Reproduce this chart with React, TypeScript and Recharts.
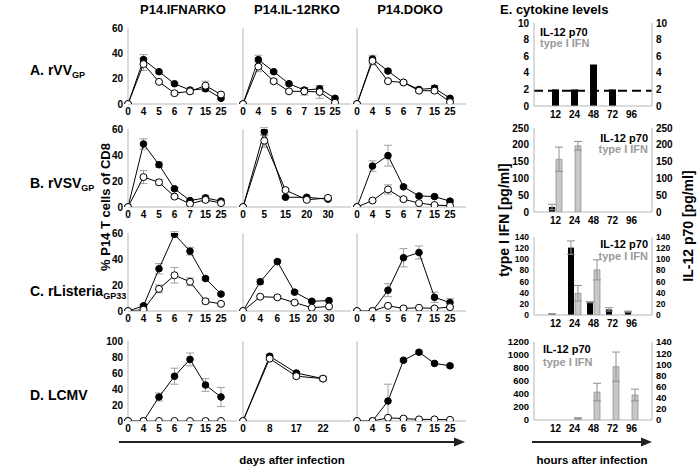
import React from 'react';
import { LineChart, Line, XAxis, YAxis, ErrorBar, BarChart, Bar, ReferenceLine } from 'recharts';

const FONT = '"Liberation Sans", Arial, sans-serif';

// x categories (days / hours)
const days7 = ['0', '4', '5', '6', '7', '15', '25'];
const daysVsvIl12 = ['0', '5', '15', '20', '30'];
const daysLisIl12 = ['0', '4', '6', '15', '20', '30'];
const daysLcmvIl12 = ['0', '8', '17', '22'];
const hours = ['12', '24', '48', '72', '96'];

const ticks60 = [0, 20, 40, 60];
const ticks100 = [0, 20, 40, 60, 80, 100];

// A. rVV GP
const vvIfnarFilled = [0, 35, 25.5, 16, 11, 12, 4.5];
const vvIfnarFilledErr = [0, 4, 1, 1, 1.5, 2, 1];
const vvIfnarOpen = [0, 31.5, 17.5, 8.5, 10, 14.5, 7.5];
const vvIfnarOpenErr = [0, 5, 1, 1, 2, 3.5, 1];
const vvIl12Filled = [0, 35, 25.5, 16, 11, 12, 4.5];
const vvIl12FilledErr = [0, 3.5, 1, 1, 1.5, 2.5, 1];
const vvIl12Open = [0, 29.5, 18, 10, 10, 9.5, 1];
const vvIl12OpenErr = [0, 4, 1.5, 1, 3, 5, 0.5];
const vvDokoFilled = [0, 35.5, 26, 17, 11.5, 12.5, 4.5];
const vvDokoFilledErr = [0, 3, 1, 1, 1, 2, 1];
const vvDokoOpen = [0, 34, 18, 17, 10.5, 10.5, 1.5];
const vvDokoOpenErr = [0, 3, 1, 1, 1, 1.5, 0.5];

// B. rVSV GP
const vsvIfnarFilled = [0, 48.5, 32.5, 14, 5, 7, 4.5];
const vsvIfnarFilledErr = [0, 4, 2, 1, 1, 2, 1];
const vsvIfnarOpen = [0, 23, 19, 8, 2.5, 5.5, 3];
const vsvIfnarOpenErr = [0, 5, 2, 1, 1, 1.5, 1];
const vsvIl12Filled = [0, 58, 7.5, 7.5, 6];
const vsvIl12FilledErr = [0, 3, 1, 1, 1];
const vsvIl12Open = [0, 51, 13, 5.5, 7];
const vsvIl12OpenErr = [0, 5, 1, 1, 1.5];
const vsvDokoFilled = [0, 31.5, 39.5, 15.5, 8.5, 8, 4.5];
const vsvDokoFilledErr = [0, 4, 8, 1, 1, 1, 1];
const vsvDokoOpen = [0, 5, 13.5, 6, 3, 1.5, 1];
const vsvDokoOpenErr = [0, 1, 3.5, 1, 0.5, 0.5, 0.5];

// C. rListeria GP33
const lisIfnarFilled = [0, 4, 32.5, 59, 46, 25, 13];
const lisIfnarFilledErr = [0, 1, 4, 2, 3, 1, 1];
const lisIfnarOpen = [0, 1, 17, 27.5, 22.5, 7.5, 5.5];
const lisIfnarOpenErr = [0, 0.5, 3, 6, 3, 2, 1];
const lisIl12Filled = [0, 22.5, 38, 14.5, 7.5, 8];
const lisIl12FilledErr = [0, 2, 1, 1, 1, 1];
const lisIl12Open = [0, 11, 10.5, 6.5, 2.5, 3.5];
const lisIl12OpenErr = [0, 1, 1, 1, 0.5, 0.5];
const lisDokoFilled = [0, 0, 16, 41, 45, 10.5, 6.5];
const lisDokoFilledErr = [0, 0, 5, 7, 5, 4, 3];
const lisDokoOpen = [0, 0, 4, 2, 2.5, 2, 3];
const lisDokoOpenErr = [0, 0, 1, 0.5, 0.5, 0.5, 1];

// D. LCMV
const lcmvIfnarFilled = [0, 0, 30, 56, 77, 45, 30];
const lcmvIfnarFilledErr = [0, 0, 5, 10, 8, 8, 12];
const lcmvIfnarOpen = [0, 0, 0, 0, 0, 0, 0];
const lcmvIfnarOpenErr = [0, 0, 0, 0, 0, 0, 0];
const lcmvIl12Filled = [0, 81, 60, 53];
const lcmvIl12FilledErr = [0, 2, 2, 2];
const lcmvIl12Open = [0, 78, 56, 53];
const lcmvIl12OpenErr = [0, 2, 3, 3];
const lcmvDokoFilled = [0, 0, 25, 76, 86, 72, 69];
const lcmvDokoFilledErr = [0, 0, 21, 2, 2, 2, 2];
const lcmvDokoOpen = [0, 0, 4, 3, 2, 2, 1.5];
const lcmvDokoOpenErr = [0, 0, 1, 1, 1, 1, 1];

// E. cytokine levels [pg/ml]
const vvIl12 = [2, 2, 5, 2, 0];
const vvDetection = 1.85;
const vsvIl12 = [15, 0, 0, 0, 0];
const vsvIl12Err = [8, 0, 0, 0, 0];
const vsvIfn = [157, 197, 0, 0, 0];
const vsvIfnErr = [36, 13, 0, 0, 0];
const lisIl12 = [2, 121, 23, 10, 6];
const lisIl12Err = [0.5, 12, 1, 3, 1];
const lisIfn = [0, 39, 81, 0, 0];
const lisIfnErr = [0, 14, 18, 0, 0];
const lcmvIl12 = [0, 0, 0, 0, 0];
const lcmvIl12Err = [0, 0, 0, 0, 0];
const lcmvIfn = [0, 25, 430, 820, 385];
const lcmvIfnErr = [0, 10, 135, 225, 90];

const tickStyle = { fill: '#000', fontSize: 10, fontWeight: 700, fontFamily: FONT };
const frame = { stroke: '#b5b5b5' };

type PanelProps = {
  x: number; y: number; w: number; h: number;
  days: string[]; filled: number[]; filledErr: number[]; open: number[]; openErr: number[];
  yMax: number; yTicks: number[]; showY: boolean; padRight: number;
};

const YW = 28, MT = 6, MR = 4, XH = 18;

function Panel(p: PanelProps) {
  const data = p.days.map((d, i) => ({ day: d, f: p.filled[i], fe: p.filledErr[i], o: p.open[i], oe: p.openErr[i] }));
  return (
    <div style={{ position: 'absolute', left: p.x - YW, top: p.y - MT }}>
      <LineChart width={YW + p.w + MR} height={MT + p.h + XH} data={data} margin={{ top: MT, right: MR, bottom: 0, left: 0 }}>
        <XAxis dataKey="day" interval={0} padding={{ left: 0, right: p.padRight }} height={XH}
          axisLine={frame} tickLine={false} tickSize={0} tickMargin={4} tick={tickStyle} />
        <XAxis xAxisId="top" type="number" domain={[0, 1]} orientation="top" height={0} tick={false} tickLine={false} axisLine={frame} />
        <YAxis domain={[0, p.yMax]} ticks={p.yTicks} interval={0} allowDataOverflow width={YW} axisLine={frame}
          tickLine={false} tickSize={0} tickMargin={5} tick={p.showY ? tickStyle : false} />
        <YAxis yAxisId="r" orientation="right" width={0} tick={false} tickLine={false} axisLine={frame} />
        <Line dataKey="f" stroke="#000" strokeWidth={1} isAnimationActive={false}
          dot={{ r: 3.3, fill: '#000', stroke: '#000', strokeWidth: 1 }}>
          <ErrorBar dataKey="fe" width={4} stroke="#a0a0a0" strokeWidth={1} direction="y" />
        </Line>
        <Line dataKey="o" stroke="#000" strokeWidth={1} isAnimationActive={false}
          dot={{ r: 3.5, fill: '#fff', stroke: '#000', strokeWidth: 1 }}>
          <ErrorBar dataKey="oe" width={4} stroke="#a0a0a0" strokeWidth={1} direction="y" />
        </Line>
      </LineChart>
    </div>
  );
}

type CytoProps = {
  y: number; h: number; il12: number[]; il12Err: number[]; ifn?: number[]; ifnErr?: number[];
  leftMax: number; leftTicks: number[]; rightMax: number; rightTicks: number[]; dashed?: number; yFont?: number;
};

const EX = 534, EW = 118, EY = 32, EB = 20;

function Cyto(p: CytoProps) {
  const data = hours.map((hr, i) => ({
    hr, il12: p.il12[i], il12Err: p.il12Err[i],
    ifn: p.ifn ? p.ifn[i] : 0, ifnErr: p.ifnErr ? p.ifnErr[i] : 0,
  }));
  const yTick = { ...tickStyle, fontSize: p.yFont ?? 10 };
  return (
    <div style={{ position: 'absolute', left: EX - EY, top: p.y - MT }}>
      <BarChart width={EY + EW + EY} height={MT + p.h + EB} data={data} margin={{ top: MT, right: 0, bottom: 0, left: 0 }}
        barGap={1} barCategoryGap={3}>
        <XAxis dataKey="hr" interval={0} padding={{ left: 12, right: 11 }} height={EB}
          axisLine={frame} tickLine={false} tickSize={0} tickMargin={5} tick={tickStyle} />
        <XAxis xAxisId="top" type="number" domain={[0, 1]} orientation="top" height={0} tick={false} tickLine={false} axisLine={frame} />
        <YAxis yAxisId="l" domain={[0, p.leftMax]} ticks={p.leftTicks} interval={0} allowDataOverflow width={EY} axisLine={frame}
          tickLine={false} tickSize={0} tickMargin={5} tick={yTick} />
        <YAxis yAxisId="r" orientation="right" domain={[0, p.rightMax]} ticks={p.rightTicks} interval={0} allowDataOverflow width={EY}
          axisLine={frame} tickLine={false} tickSize={0} tickMargin={4} tick={{ ...yTick, textAnchor: 'start' }} />
        <Bar dataKey="il12" yAxisId="r" fill="#000" barSize={p.ifn ? 6 : 7} isAnimationActive={false}>
          <ErrorBar dataKey="il12Err" width={4} stroke="#909090" strokeWidth={1} direction="y" />
        </Bar>
        {p.ifn && (
          <Bar dataKey="ifn" yAxisId="l" fill="#c8c8c8" stroke="#7a7a7a" strokeWidth={0.6} barSize={6} isAnimationActive={false}>
            <ErrorBar dataKey="ifnErr" width={4} stroke="#909090" strokeWidth={1} direction="y" />
          </Bar>
        )}
        {p.dashed !== undefined && (
          <ReferenceLine y={p.dashed} yAxisId="l" xAxisId="top" stroke="#000" strokeWidth={2} strokeDasharray="9 5" />
        )}
      </BarChart>
    </div>
  );
}

const cols = [{ x: 128, w: 109 }, { x: 243, w: 108 }, { x: 357, w: 109 }];
const rows = [{ y: 28, h: 76 }, { y: 129, h: 78 }, { y: 233, h: 78 }, { y: 341, h: 80 }];

const bold = { fontFamily: FONT, fontWeight: 700 };

function Arrow({ x1, x2, y }: { x1: number; x2: number; y: number }) {
  return (
    <g>
      <line x1={x1} y1={y} x2={x2 - 8} y2={y} stroke="#222" strokeWidth={2} />
      <polygon points={`${x2},${y} ${x2 - 11},${y - 4.5} ${x2 - 11},${y + 4.5}`} fill="#222" />
    </g>
  );
}

function RowLabel({ y, main, sub }: { y: number; main: string; sub?: string }) {
  return (
    <text x={30} y={y} fontSize={14} {...bold}>
      {main}
      {sub && <tspan fontSize={9} dy={3}>{sub}</tspan>}
    </text>
  );
}

export default function App() {
  return (
    <div style={{ position: 'absolute', left: 0, top: 0, width: 697, height: 470, background: '#fff', overflow: 'hidden' }}>
      {/* A. rVV */}
      <Panel {...cols[0]} {...rows[0]} days={days7} filled={vvIfnarFilled} filledErr={vvIfnarFilledErr} open={vvIfnarOpen} openErr={vvIfnarOpenErr} yMax={60} yTicks={ticks60} showY padRight={16} />
      <Panel {...cols[1]} {...rows[0]} days={days7} filled={vvIl12Filled} filledErr={vvIl12FilledErr} open={vvIl12Open} openErr={vvIl12OpenErr} yMax={60} yTicks={ticks60} showY={false} padRight={16} />
      <Panel {...cols[2]} {...rows[0]} days={days7} filled={vvDokoFilled} filledErr={vvDokoFilledErr} open={vvDokoOpen} openErr={vvDokoOpenErr} yMax={60} yTicks={ticks60} showY={false} padRight={16} />
      {/* B. rVSV */}
      <Panel {...cols[0]} {...rows[1]} days={days7} filled={vsvIfnarFilled} filledErr={vsvIfnarFilledErr} open={vsvIfnarOpen} openErr={vsvIfnarOpenErr} yMax={60} yTicks={ticks60} showY padRight={16} />
      <Panel {...cols[1]} {...rows[1]} days={daysVsvIl12} filled={vsvIl12Filled} filledErr={vsvIl12FilledErr} open={vsvIl12Open} openErr={vsvIl12OpenErr} yMax={60} yTicks={ticks60} showY={false} padRight={23} />
      <Panel {...cols[2]} {...rows[1]} days={days7} filled={vsvDokoFilled} filledErr={vsvDokoFilledErr} open={vsvDokoOpen} openErr={vsvDokoOpenErr} yMax={60} yTicks={ticks60} showY={false} padRight={16} />
      {/* C. rListeria */}
      <Panel {...cols[0]} {...rows[2]} days={days7} filled={lisIfnarFilled} filledErr={lisIfnarFilledErr} open={lisIfnarOpen} openErr={lisIfnarOpenErr} yMax={60} yTicks={ticks60} showY padRight={16} />
      <Panel {...cols[1]} {...rows[2]} days={daysLisIl12} filled={lisIl12Filled} filledErr={lisIl12FilledErr} open={lisIl12Open} openErr={lisIl12OpenErr} yMax={60} yTicks={ticks60} showY={false} padRight={22} />
      <Panel {...cols[2]} {...rows[2]} days={days7} filled={lisDokoFilled} filledErr={lisDokoFilledErr} open={lisDokoOpen} openErr={lisDokoOpenErr} yMax={60} yTicks={ticks60} showY={false} padRight={16} />
      {/* D. LCMV */}
      <Panel {...cols[0]} {...rows[3]} days={days7} filled={lcmvIfnarFilled} filledErr={lcmvIfnarFilledErr} open={lcmvIfnarOpen} openErr={lcmvIfnarOpenErr} yMax={100} yTicks={ticks100} showY padRight={16} />
      <Panel {...cols[1]} {...rows[3]} days={daysLcmvIl12} filled={lcmvIl12Filled} filledErr={lcmvIl12FilledErr} open={lcmvIl12Open} openErr={lcmvIl12OpenErr} yMax={100} yTicks={ticks100} showY={false} padRight={28} />
      <Panel {...cols[2]} {...rows[3]} days={days7} filled={lcmvDokoFilled} filledErr={lcmvDokoFilledErr} open={lcmvDokoOpen} openErr={lcmvDokoOpenErr} yMax={100} yTicks={ticks100} showY={false} padRight={16} />

      {/* E. cytokines */}
      <Cyto y={23} h={83} il12={vvIl12} il12Err={[0, 0, 0, 0, 0]} leftMax={10} leftTicks={[0, 2, 4, 6, 8, 10]} rightMax={10} rightTicks={[0, 2, 4, 6, 8, 10]} dashed={vvDetection} />
      <Cyto y={128} h={84} il12={vsvIl12} il12Err={vsvIl12Err} ifn={vsvIfn} ifnErr={vsvIfnErr} leftMax={250} leftTicks={[0, 50, 100, 150, 200, 250]} rightMax={250} rightTicks={[0, 50, 100, 150, 200, 250]} />
      <Cyto y={237} h={78} il12={lisIl12} il12Err={lisIl12Err} ifn={lisIfn} ifnErr={lisIfnErr} leftMax={140} leftTicks={[0, 20, 40, 60, 80, 100, 120, 140]} rightMax={140} rightTicks={[0, 20, 40, 60, 80, 100, 120, 140]} yFont={8.5} />
      <Cyto y={342} h={78} il12={lcmvIl12} il12Err={lcmvIl12Err} ifn={lcmvIfn} ifnErr={lcmvIfnErr} leftMax={1200} leftTicks={[0, 200, 400, 600, 800, 1000, 1200]} rightMax={140} rightTicks={[0, 20, 40, 60, 80, 100, 120, 140]} yFont={9.5} />

      <svg width={697} height={470} style={{ position: 'absolute', left: 0, top: 0, pointerEvents: 'none' }}>
        <text x={183} y={14} fontSize={13} textAnchor="middle" {...bold}>P14.IFNARKO</text>
        <text x={297} y={14} fontSize={13} textAnchor="middle" {...bold}>P14.IL-12RKO</text>
        <text x={410} y={14} fontSize={13} textAnchor="middle" {...bold}>P14.DOKO</text>
        <text x={500} y={14} fontSize={13} {...bold}>E. cytokine levels</text>

        <RowLabel y={75} main="A. rVV" sub="GP" />
        <RowLabel y={188} main="B. rVSV" sub="GP" />
        <RowLabel y={296} main="C. rListeria" sub="GP33" />
        <RowLabel y={400} main="D. LCMV" />

        <text x={105} y={207} dy="0.35em" fontSize={13} textAnchor="middle" transform="rotate(-90 105 207)" {...bold}>% P14 T cells of CD8</text>
        <text x={504} y={220} dy="0.35em" fontSize={14} textAnchor="middle" transform="rotate(-90 504 220)" {...bold}>type I IFN [pg/ml]</text>
        <text x={688} y={226} dy="0.35em" fontSize={14} textAnchor="middle" transform="rotate(-90 688 226)" {...bold}>IL-12 p70 [pg/ml]</text>

        <text x={540} y={36} fontSize={11} {...bold}>IL-12 p70</text>
        <text x={540} y={47} fontSize={11} fill="#9a9a9a" {...bold}>type I IFN</text>
        <text x={648} y={142} fontSize={11} textAnchor="end" {...bold}>IL-12 p70</text>
        <text x={648} y={153} fontSize={11} textAnchor="end" fill="#9a9a9a" {...bold}>type I IFN</text>
        <text x={648} y={248} fontSize={11} textAnchor="end" {...bold}>IL-12 p70</text>
        <text x={648} y={260} fontSize={11} textAnchor="end" fill="#9a9a9a" {...bold}>type I IFN</text>
        <text x={543} y={353} fontSize={11} {...bold}>IL-12 p70</text>
        <text x={543} y={366} fontSize={11} fill="#9a9a9a" {...bold}>type I IFN</text>

        <Arrow x1={119} x2={465} y={442} />
        <Arrow x1={532} x2={652} y={442} />
        <text x={292} y={464} fontSize={11.5} textAnchor="middle" {...bold}>days after infection</text>
        <text x={592} y={464} fontSize={11.5} textAnchor="middle" {...bold}>hours after infection</text>
      </svg>
    </div>
  );
}
